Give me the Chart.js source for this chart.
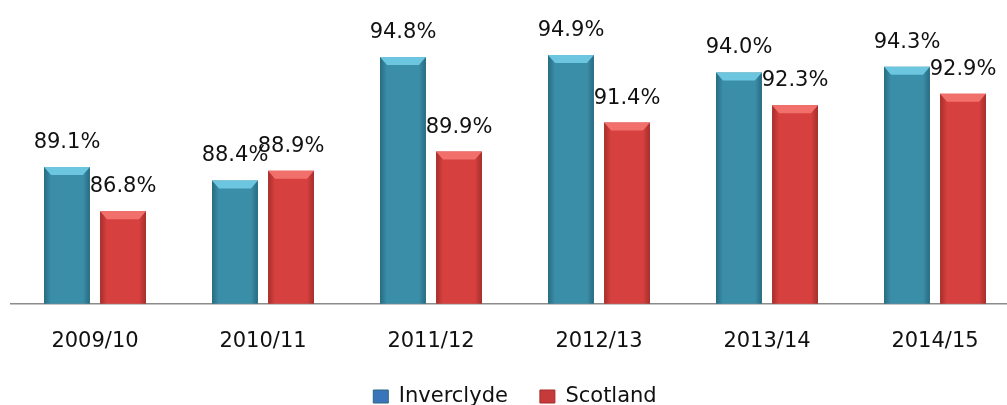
<!DOCTYPE html>
<html>
<head>
<meta charset="utf-8">
<script src="https://cdn.jsdelivr.net/npm/chart.js@4"></script>
<style>
  html, body { margin: 0; padding: 0; background: #fff; overflow: hidden; }
  #wrap { width: 1019px; height: 405px; position: relative; }
</style>
</head>
<body>
<div id="wrap"><canvas id="chart"></canvas></div>
<script>
const years = ["2009/10", "2010/11", "2011/12", "2012/13", "2013/14", "2014/15"];
const inverclyde = [89.1, 88.4, 94.8, 94.9, 94.0, 94.3];
const scotland = [86.8, 88.9, 89.9, 91.4, 92.3, 92.9];

const FONT = "'DejaVu Sans', sans-serif";

const palette = {
  Inverclyde: { edge: "#276a80", mid: "#3a8ea8", bevel: "#6cc6e0", legend: "#3a74ba" },
  Scotland: { edge: "#a52d2b", mid: "#d6403e", bevel: "#f2706b", legend: "#c63a3c" },
};

function barFill(name, offset) {
  return function (ctx) {
    const chart = ctx.chart;
    const p = palette[name];
    if (ctx.type !== "data" || !chart.chartArea || !chart.scales.x) return p.mid;
    const cx = chart.scales.x.getPixelForValue(ctx.dataIndex) + offset;
    const g = chart.ctx.createLinearGradient(cx - 23, 0, cx + 23, 0);
    g.addColorStop(0, p.edge);
    g.addColorStop(0.15, p.mid);
    g.addColorStop(0.85, p.mid);
    g.addColorStop(1, p.edge);
    return g;
  };
}

// bevel on the top of each bar plus value labels
const barDecor = {
  id: "barDecor",
  afterDatasetsDraw(chart) {
    const c = chart.ctx;
    chart.data.datasets.forEach((ds, i) => {
      const meta = chart.getDatasetMeta(i);
      const p = palette[ds.label];
      meta.data.forEach((bar, j) => {
        const half = bar.width / 2;
        c.save();
        c.fillStyle = p.bevel;
        c.beginPath();
        c.moveTo(bar.x - half, bar.y);
        c.lineTo(bar.x + half, bar.y);
        c.lineTo(bar.x + half - 7, bar.y + 8);
        c.lineTo(bar.x - half + 7, bar.y + 8);
        c.closePath();
        c.fill();
        c.fillStyle = "#111";
        c.font = "21px " + FONT;
        c.textAlign = "center";
        c.textBaseline = "alphabetic";
        c.fillText(ds.data[j].toFixed(1) + "%", bar.x, bar.y - 19);
        c.restore();
      });
    });
  },
};

// pull the legend a bit lower
const legendShift = {
  id: "legendShift",
  beforeInit(chart) {
    const fit = chart.legend.fit;
    chart.legend.fit = function () {
      fit.bind(chart.legend)();
      this.height -= 12;
    };
  },
};

new Chart(document.getElementById("chart"), {
  type: "bar",
  data: {
    labels: years,
    datasets: [
      {
        label: "Inverclyde",
        data: inverclyde,
        backgroundColor: barFill("Inverclyde", -28),
      },
      {
        label: "Scotland",
        data: scotland,
        backgroundColor: barFill("Scotland", 28),
      },
    ],
  },
  options: {
    responsive: true,
    maintainAspectRatio: false,
    animation: false,
    categoryPercentage: 0.667,
    barPercentage: 0.82,
    layout: { padding: { left: 11, right: 0, top: 5, bottom: 0 } },
    plugins: {
      tooltip: { enabled: false },
      legend: {
        position: "bottom",
        labels: {
          boxWidth: 15,
          boxHeight: 13,
          padding: 12,
          color: "#111",
          font: { family: FONT, size: 21 },
          generateLabels(chart) {
            return chart.data.datasets.map((ds, i) => ({
              text: i === 0 ? ds.label + "   " : ds.label,
              fillStyle: palette[ds.label].legend,
              strokeStyle: palette[ds.label].edge,
              lineWidth: 1,
              datasetIndex: i,
              fontColor: "#111",
            }));
          },
        },
      },
    },
    scales: {
      x: {
        grid: { display: false, drawTicks: false },
        border: { display: true, color: "#8c8c8c", width: 1.5 },
        ticks: {
          color: "#111",
          padding: 25,
          font: { family: FONT, size: 21 },
        },
        afterFit(scale) {
          scale.height -= 5;
        },
      },
      y: {
        display: false,
        min: 82,
        max: 97.5,
      },
    },
  },
  plugins: [barDecor, legendShift],
});
</script>
</body>
</html>
